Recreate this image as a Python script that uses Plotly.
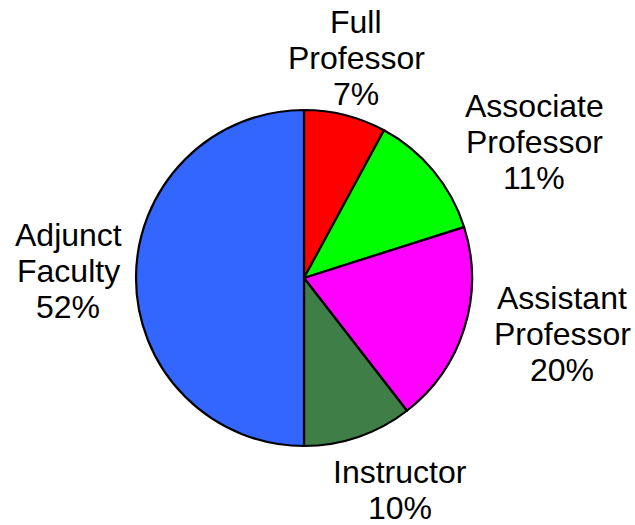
import plotly.graph_objects as go

categories = ["Full Professor", "Associate Professor", "Assistant Professor", "Instructor", "Adjunct Faculty"]
label_lines = [["Full", "Professor"], ["Associate", "Professor"], ["Assistant", "Professor"], ["Instructor"], ["Adjunct", "Faculty"]]
values = [7.9, 12.2, 19.4, 10.5, 50.0]
pct_labels = ["7%", "11%", "20%", "10%", "52%"]
colors = ["#FF0000", "#00FF00", "#FF00FF", "#3F7F47", "#3366FF"]

W, H = 635, 525
# label block placement in page pixels: (centre x, first line centre y)
label_pos = [(356, 22), (534, 106), (562, 298), (400, 472), (68, 235)]
LINE_GAP = 36.2

# pie: centre (304, 278), radius 168 in page pixels
cx, cy, r = 304, 278, 168
dom_x = [(cx - r) / W, (cx + r) / W]
dom_y = [1 - (cy + r) / H, 1 - (cy - r) / H]

fig = go.Figure(go.Pie(
    values=values,
    labels=categories,
    textinfo="none",
    sort=False,
    direction="clockwise",
    rotation=0,
    marker=dict(colors=colors, line=dict(color="black", width=2.2)),
    showlegend=False,
    domain=dict(x=dom_x, y=dom_y),
    hoverinfo="label+percent",
))

for lines, pct, (px, py) in zip(label_lines, pct_labels, label_pos):
    for i, t in enumerate(lines + [pct]):
        ypix = py + i * LINE_GAP
        fig.add_annotation(
            x=px / W, y=1 - ypix / H, xref="paper", yref="paper",
            text=t, showarrow=False,
            xanchor="center", yanchor="middle", align="center",
            font=dict(family="Liberation Sans, Arial, sans-serif", size=32, color="black"),
        )

fig.update_layout(
    width=W, height=H,
    margin=dict(l=0, r=0, t=0, b=0),
    paper_bgcolor="white",
    plot_bgcolor="white",
)
fig.write_html(
    "out.html",
    config={"displayModeBar": False},
    post_script="document.body.style.margin='0px';document.body.style.overflow='hidden';",
)
